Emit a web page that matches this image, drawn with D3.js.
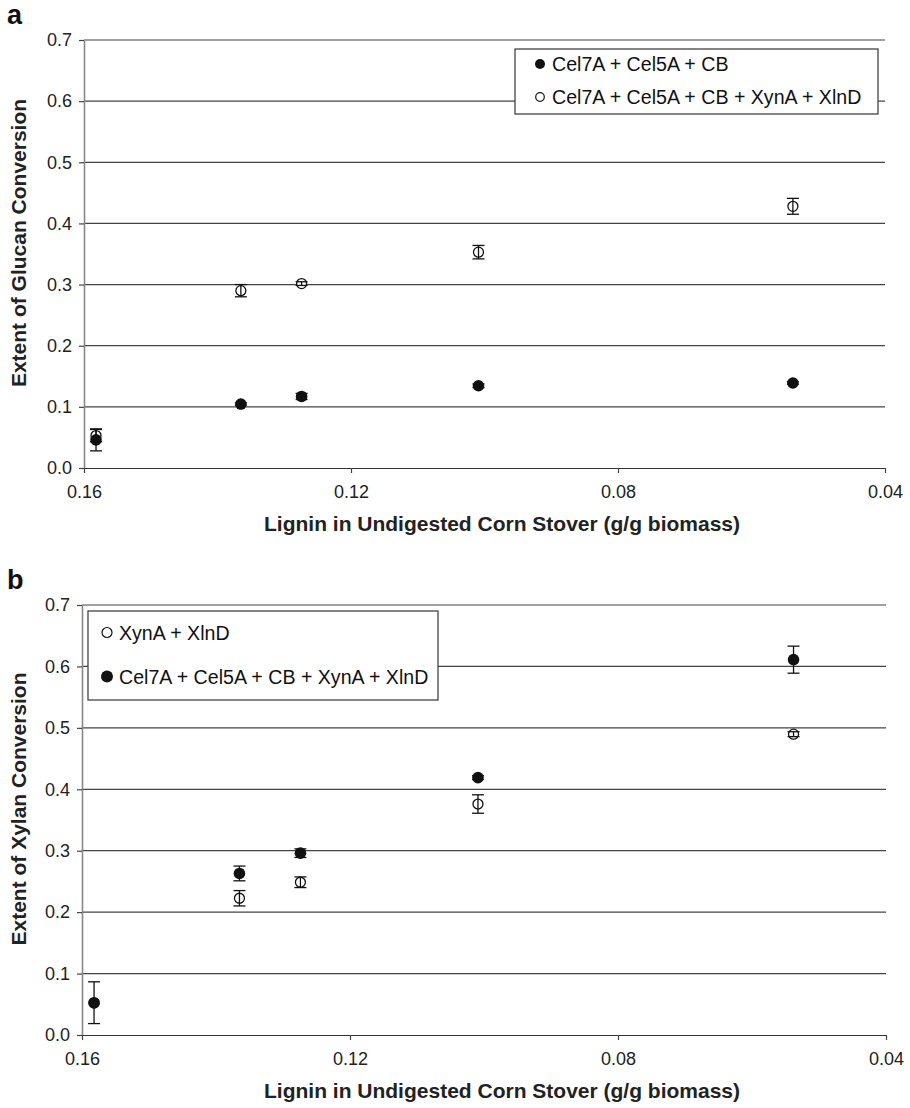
<!DOCTYPE html>
<html>
<head>
<meta charset="utf-8">
<script src="https://cdn.jsdelivr.net/npm/d3@7"></script>
<style>
  body { margin: 0; background: #fff; }
  svg { display: block; font-family: Arial, "Liberation Sans", sans-serif; }
</style>
</head>
<body>
<svg id="chart" width="910" height="1108"></svg>
<script>
/* ---------- data ---------- */
const ligninX = [0.1582, 0.1365, 0.1274, 0.1009, 0.0538];

// panel a : glucan conversion
const glucanCB     = [0.046, 0.1046, 0.117, 0.1345, 0.139];
const glucanCBErr  = [0.018, 0.002, 0.005, 0.003, 0.002];
const glucanAll    = [0.053, 0.290, 0.3016, 0.353, 0.428];
const glucanAllErr = [0.010, 0.010, 0.003, 0.011, 0.013];

// panel b : xylan conversion
const xylanXyn     = [0.052, 0.2226, 0.2487, 0.376, 0.4897];
const xylanXynErr  = [0.000, 0.0125, 0.0087, 0.015, 0.004];
const xylanAll     = [0.0526, 0.263, 0.296, 0.419, 0.611];
const xylanAllErr  = [0.034, 0.012, 0.007, 0.003, 0.022];

const xTicks = [0.16, 0.12, 0.08, 0.04];
const yTicks = [0, 0.1, 0.2, 0.3, 0.4, 0.5, 0.6, 0.7];

const xTitle = "Lignin in Undigested Corn Stover (g/g biomass)";

const svg = d3.select("#chart");

function drawPanel(cfg){
  const g = svg.append("g");

  const x = d3.scaleLinear().domain([0.16, 0.04]).range([cfg.left, cfg.right]);
  const y = d3.scaleLinear().domain([0, 0.7]).range([cfg.bottom, cfg.top]);

  /* gridlines */
  g.selectAll(".grid")
    .data(yTicks.filter(d => d > 0))
    .join("line")
      .attr("class", "grid")
      .attr("x1", cfg.left).attr("x2", cfg.right)
      .attr("y1", d => y(d)).attr("y2", d => y(d))
      .attr("stroke", "#444")
      .attr("stroke-width", 1.2);

  /* axes */
  const yAxis = d3.axisLeft(y).tickValues(yTicks).tickFormat(d3.format(".1f"))
    .tickSize(5).tickPadding(7).tickSizeOuter(0);
  const xAxis = d3.axisBottom(x).tickValues(xTicks).tickFormat(d3.format(".2f"))
    .tickSize(5).tickPadding(12).tickSizeOuter(0);

  const yg = g.append("g").attr("transform", `translate(${cfg.left},0)`).call(yAxis);
  yg.select(".domain").attr("stroke", "#888").attr("stroke-width", 1.6);
  yg.selectAll(".tick line").attr("stroke", "#444").attr("stroke-width", 1.2);

  const xg = g.append("g").attr("transform", `translate(0,${cfg.bottom})`).call(xAxis);
  xg.select(".domain").attr("stroke", "#333").attr("stroke-width", 1.2);
  xg.selectAll(".tick line").attr("stroke", "#444").attr("stroke-width", 1.2);

  g.selectAll(".tick text")
    .attr("font-family", "Arial, 'Liberation Sans', sans-serif")
    .attr("font-size", 18)
    .attr("fill", "#222");

  /* axis titles */
  g.append("text")
    .attr("x", cfg.xTitleX).attr("y", cfg.bottom + 63)
    .attr("text-anchor", "middle")
    .attr("font-size", 21).attr("font-weight", "bold").attr("fill", "#222")
    .text(xTitle);

  g.append("text")
    .attr("transform", `translate(26,${(cfg.top + cfg.bottom) / 2 - 11}) rotate(-90)`)
    .attr("text-anchor", "middle")
    .attr("font-size", 21).attr("font-weight", "bold").attr("fill", "#222")
    .text(cfg.yTitle);

  /* panel letter */
  g.append("text")
    .attr("x", 7).attr("y", cfg.top - 16)
    .attr("font-size", 27).attr("font-weight", "bold").attr("fill", "#111")
    .text(cfg.letter);

  /* series: open first, filled on top */
  cfg.series.forEach(s => {
    const pts = ligninX.map((lx, i) => ({x: lx, v: s.values[i], e: s.err[i]}));
    const sg = g.append("g");

    sg.selectAll("circle")
      .data(pts)
      .join("circle")
        .attr("cx", d => x(d.x))
        .attr("cy", d => y(d.v))
        .attr("r", s.filled ? 5.8 : 5)
        .attr("fill", s.filled ? "#111" : "#fff")
        .attr("stroke", "#111")
        .attr("stroke-width", s.filled ? 0 : 1.3);

    const eb = sg.selectAll(".err").data(pts.filter(d => d.e > 0)).join("g").attr("class", "err")
      .attr("stroke", "#111").attr("stroke-width", 1.3);
    eb.append("line")
      .attr("x1", d => x(d.x)).attr("x2", d => x(d.x))
      .attr("y1", d => y(d.v - d.e)).attr("y2", d => y(d.v + d.e));
    eb.append("line")
      .attr("x1", d => x(d.x) - 6).attr("x2", d => x(d.x) + 6)
      .attr("y1", d => y(d.v + d.e)).attr("y2", d => y(d.v + d.e));
    eb.append("line")
      .attr("x1", d => x(d.x) - 6).attr("x2", d => x(d.x) + 6)
      .attr("y1", d => y(d.v - d.e)).attr("y2", d => y(d.v - d.e));
  });

  /* legend */
  const L = cfg.legend;
  const lg = g.append("g");
  lg.append("rect")
    .attr("x", L.x).attr("y", L.y).attr("width", L.w).attr("height", L.h)
    .attr("fill", "#fff").attr("stroke", "#444").attr("stroke-width", 1.3);

  const rows = lg.selectAll(".row").data(L.items).join("g")
    .attr("class", "row")
    .attr("transform", (d, i) => `translate(${L.x + L.markerDx},${L.y + L.firstDy + i * L.rowGap})`);
  rows.append("circle")
    .attr("r", d => d.filled ? L.rFilled : L.rOpen)
    .attr("fill", d => d.filled ? "#111" : "#fff")
    .attr("stroke", "#111")
    .attr("stroke-width", d => d.filled ? 0 : 1.2);
  rows.append("text")
    .attr("x", L.textDx).attr("dy", "0.36em")
    .attr("font-size", 19.6).attr("fill", "#111")
    .text(d => d.label);
}

drawPanel({
  letter: "a",
  left: 84, right: 885, top: 40, bottom: 468,
  xTitleX: 502,
  yTitle: "Extent of Glucan Conversion",
  series: [
    {values: glucanAll, err: glucanAllErr, filled: false},
    {values: glucanCB,  err: glucanCBErr,  filled: true}
  ],
  legend: {
    x: 515, y: 49, w: 363, h: 65,
    markerDx: 25, textDx: 12, firstDy: 15, rowGap: 33, rFilled: 5, rOpen: 4.3,
    items: [
      {label: "Cel7A + Cel5A + CB", filled: true},
      {label: "Cel7A + Cel5A + CB + XynA + XlnD", filled: false}
    ]
  }
});

drawPanel({
  letter: "b",
  left: 82, right: 886, top: 605, bottom: 1035,
  xTitleX: 502,
  yTitle: "Extent of Xylan Conversion",
  series: [
    {values: xylanXyn, err: xylanXynErr, filled: false},
    {values: xylanAll, err: xylanAllErr, filled: true}
  ],
  legend: {
    x: 88, y: 611, w: 350, h: 89,
    markerDx: 19, textDx: 12, firstDy: 21.5, rowGap: 44, rFilled: 6, rOpen: 5,
    items: [
      {label: "XynA + XlnD", filled: false},
      {label: "Cel7A + Cel5A + CB + XynA + XlnD", filled: true}
    ]
  }
});
</script>
</body>
</html>
